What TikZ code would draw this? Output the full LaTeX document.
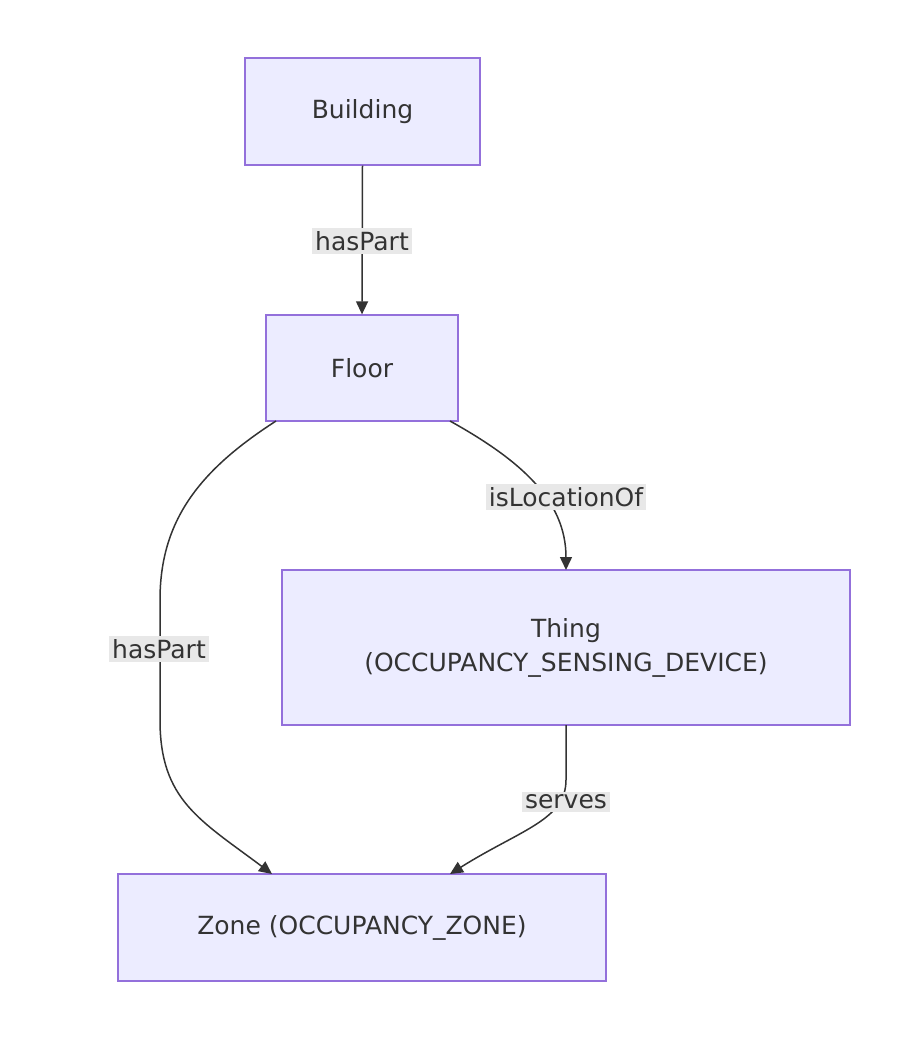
\documentclass[tikz,border=0pt]{standalone}
\usepackage{fontspec}
\setmainfont{DejaVu Sans}
\usetikzlibrary{arrows.meta}
\definecolor{nfill}{HTML}{ECECFF}
\definecolor{nstroke}{HTML}{9370DB}
\definecolor{edge}{HTML}{333333}
\definecolor{lbl}{HTML}{E8E8E8}
\begin{document}
\begin{tikzpicture}[x=1pt,y=-1pt,
 box/.style={draw=nstroke,fill=nfill,line width=1.3pt,inner sep=0pt,font=\fontsize{25}{34}\selectfont,text=edge,align=center},
 lab/.style={fill=lbl,inner sep=3pt,font=\fontsize{25}{30}\selectfont,text=edge},
 arr/.style={draw=edge,line width=1.5pt,-{Triangle[length=13pt,width=12pt]}}]
\useasboundingbox (0,0) rectangle (900,1042);
\node[box,minimum width=235pt,minimum height=107pt] (b) at (362.5,111.5) {Building};
\node[box,minimum width=192pt,minimum height=106pt] (f) at (362,368) {Floor};
\node[box,minimum width=568pt,minimum height=155pt] (t) at (566,647.5) {Thing\\(OCCUPANCY\_SENSING\_DEVICE)};
\node[box,minimum width=488pt,minimum height=107pt] (z) at (362,927.5) {Zone (OCCUPANCY\_ZONE)};
\coordinate (f1) at (276,421);
\coordinate (f2) at (450,421);
\coordinate (z1) at (272,874);
\coordinate (z2) at (450,874);
\coordinate (t1) at (566,570);
\coordinate (t2) at (566,725);
\draw[arr] (b.south) -- (f.north);
\draw[arr] (f1) .. controls (200,470) and (160,520) .. (160,600) -- (160,720) .. controls (160,800) and (200,820) .. (z1);
\draw[arr] (f2) .. controls (520,460) and (566,500) .. (t1);
\draw[arr] (t2) -- (566,780) .. controls (566,820) and (520,830) .. (z2);
\node[lab] (l1) at (362,241) {hasPart};
\node[lab] (l2) at (566,497) {isLocationOf};
\node[lab] (l3) at (159,649) {hasPart};
\node[lab] (l4) at (566,802) {serves};
\end{tikzpicture}
\end{document}
